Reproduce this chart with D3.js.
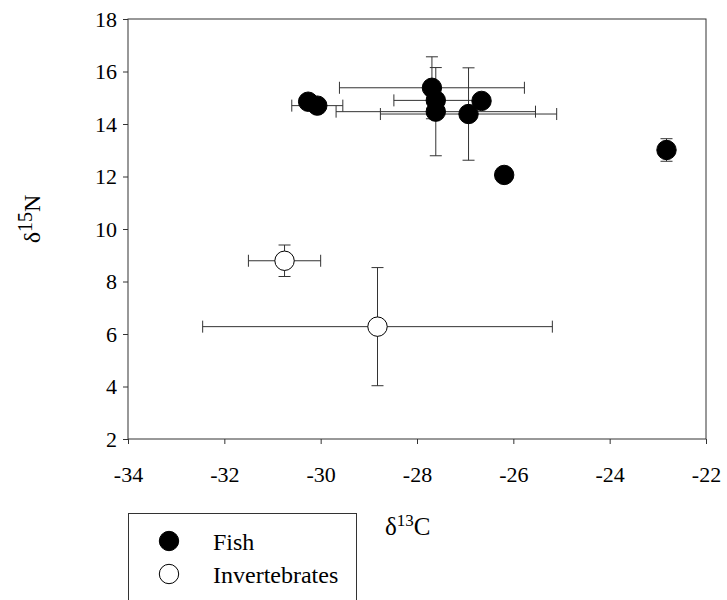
<!DOCTYPE html>
<html>
<head>
<meta charset="utf-8">
<script src="https://cdn.jsdelivr.net/npm/d3@7"></script>
<style>
  html, body { margin: 0; padding: 0; background: #fff; }
  svg { display: block; }
  text { font-family: "Liberation Serif", "Times New Roman", serif; fill: #000; }
</style>
</head>
<body>
<svg id="chart" width="727" height="600"></svg>
<script>
// Stable isotope means (δ13C, δ15N) with standard deviations
const fishC   = [-30.26, -30.07, -27.69, -27.61, -27.61, -26.93, -26.66, -26.19, -22.82];
const fishN   = [14.85, 14.70, 15.38, 14.90, 14.47, 14.38, 14.88, 12.06, 13.01];
const fishCsd = [0, 0.53, 1.92, 0.87, 2.07, 1.83, 0, 0, 0];
const fishNsd = [0, 0, 1.18, 0, 1.68, 1.76, 0, 0, 0.43];

const invC   = [-30.75, -28.82];
const invN   = [8.79, 6.28];
const invCsd = [0.75, 3.63];
const invNsd = [0.60, 2.25];

const xTicks = [-34, -32, -30, -28, -26, -24, -22];
const yTicks = [2, 4, 6, 8, 10, 12, 14, 16, 18];
const legendLabels = ["Fish", "Invertebrates"];

const svg = d3.select("#chart");
const plotL = 128, plotR = 706, plotT = 19, plotB = 439;
const ink = "#333";
const serif = "'Liberation Serif', 'Times New Roman', serif";

const x = d3.scaleLinear().domain([-34, -22]).range([plotL, plotR]);
const y = d3.scaleLinear().domain([2, 18]).range([plotB, plotT]);

// Plot frame
svg.append("rect")
  .attr("x", plotL).attr("y", plotT)
  .attr("width", plotR - plotL).attr("height", plotB - plotT)
  .attr("fill", "none").attr("stroke", ink).attr("stroke-width", 1);

// Axes
const xAxis = svg.append("g")
  .attr("transform", `translate(0,${plotB})`)
  .call(d3.axisBottom(x).tickValues(xTicks).tickSize(5).tickFormat(d => String(d)));
xAxis.attr("font-family", serif).attr("font-size", 22);
xAxis.select(".domain").remove();
xAxis.selectAll(".tick line").attr("stroke", ink);
xAxis.selectAll(".tick text").attr("y", 43).attr("dy", null).attr("fill", "#000");

const yAxis = svg.append("g")
  .attr("transform", `translate(${plotL},0)`)
  .call(d3.axisLeft(y).tickValues(yTicks).tickSize(5).tickFormat(d => String(d)));
yAxis.attr("font-family", serif).attr("font-size", 22);
yAxis.select(".domain").remove();
yAxis.selectAll(".tick line").attr("stroke", ink);
yAxis.selectAll(".tick text").attr("x", -11).attr("dy", "0.34em").attr("fill", "#000");

// Axis titles
const xt = svg.append("text").attr("x", 385).attr("y", 535)
  .attr("font-family", serif).attr("font-size", 25);
xt.append("tspan").text("δ");
xt.append("tspan").attr("dy", -9).attr("font-size", 17).text("13");
xt.append("tspan").attr("dy", 9).text("C");

const yt = svg.append("text")
  .attr("transform", `translate(40,219) rotate(-90)`)
  .attr("text-anchor", "middle").attr("font-family", serif).attr("font-size", 24);
yt.append("tspan").text("δ");
yt.append("tspan").attr("dy", -8).attr("font-size", 20).text("15");
yt.append("tspan").attr("dy", 8).text("N");

// Error bars
function errorBars(cx, cy, cs, ns) {
  const g = svg.append("g").attr("stroke", ink).attr("stroke-width", 1).attr("fill", "none");
  const cap = 6;
  cx.forEach((c, i) => {
    const px = x(c), py = y(cy[i]);
    if (cs[i] > 0) {
      const x0 = x(c - cs[i]), x1 = x(c + cs[i]);
      g.append("line").attr("x1", x0).attr("x2", x1).attr("y1", py).attr("y2", py);
      g.append("line").attr("x1", x0).attr("x2", x0).attr("y1", py - cap).attr("y2", py + cap);
      g.append("line").attr("x1", x1).attr("x2", x1).attr("y1", py - cap).attr("y2", py + cap);
    }
    if (ns[i] > 0) {
      const y0 = y(cy[i] - ns[i]), y1 = y(cy[i] + ns[i]);
      g.append("line").attr("x1", px).attr("x2", px).attr("y1", y0).attr("y2", y1);
      g.append("line").attr("x1", px - cap).attr("x2", px + cap).attr("y1", y0).attr("y2", y0);
      g.append("line").attr("x1", px - cap).attr("x2", px + cap).attr("y1", y1).attr("y2", y1);
    }
  });
}
errorBars(fishC, fishN, fishCsd, fishNsd);
errorBars(invC, invN, invCsd, invNsd);

// Markers
const r = 9.7;
svg.append("g").selectAll("circle").data(fishC).join("circle")
  .attr("cx", d => x(d)).attr("cy", (d, i) => y(fishN[i])).attr("r", r)
  .attr("fill", "#000").attr("stroke", "#000");
svg.append("g").selectAll("circle").data(invC).join("circle")
  .attr("cx", d => x(d)).attr("cy", (d, i) => y(invN[i])).attr("r", r)
  .attr("fill", "#fff").attr("stroke", "#000").attr("stroke-width", 1);

// Legend
const lg = svg.append("g");
lg.append("rect").attr("x", 128.5).attr("y", 513.5).attr("width", 228).attr("height", 120)
  .attr("fill", "#fff").attr("stroke", ink);
const fills = ["#000", "#fff"];
legendLabels.forEach((t, i) => {
  const cy = 541 + i * 33;
  lg.append("circle").attr("cx", 169).attr("cy", cy).attr("r", r)
    .attr("fill", fills[i]).attr("stroke", "#000");
  lg.append("text").attr("x", 213).attr("y", cy + 8.5)
    .attr("font-family", serif).attr("font-size", 24).text(t);
});
</script>
</body>
</html>
